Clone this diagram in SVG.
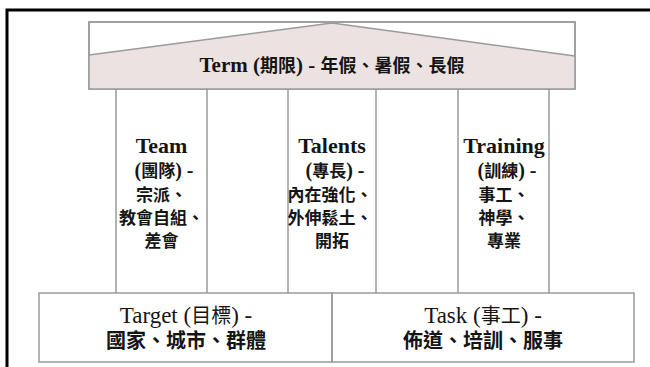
<svg xmlns="http://www.w3.org/2000/svg" width="650" height="367" viewBox="0 0 650 367">
<style>
.ln{fill:none;stroke:#9a9a9a;stroke-width:1.5}
.t{font-family:"Liberation Serif","Noto Sans CJK TC",serif;fill:#151515;text-anchor:middle}
.b{font-weight:bold}
.lat{font-size:22px}
.mix{font-size:20px}
.cjk{font-size:17px}
.bot{font-size:23px}
.c18{font-size:18px}
</style>
<rect x="0" y="0" width="650" height="367" fill="#ffffff"/>
<path d="M7,370 V10 H655" fill="none" stroke="#000000" stroke-width="3"/>
<g id="roof">
<rect x="89" y="22" width="486" height="67" fill="#ffffff" class="ln"/>
<polygon points="89,55 332,23 575,56 575,89 89,89" fill="#ede2e2" stroke="none"/>
<polyline points="89,55 332,23 575,56" class="ln"/>
<rect x="89" y="22" width="486" height="67" class="ln"/>
<text class="t b" x="332" y="72" font-size="21">Term (<tspan class="c18">期限</tspan>) - <tspan class="c18">年假、暑假、長假</tspan></text>
</g>
<g id="connectors">
<line x1="116" y1="89" x2="116" y2="293" class="ln"/>
<line x1="207" y1="89" x2="207" y2="293" class="ln"/>
<line x1="288" y1="89" x2="288" y2="293" class="ln"/>
<line x1="376" y1="89" x2="376" y2="293" class="ln"/>
<line x1="458" y1="89" x2="458" y2="293" class="ln"/>
<line x1="549" y1="89" x2="549" y2="293" class="ln"/>
</g>
<g id="team">
<text class="t b lat" x="161.5" y="153">Team</text>
<text class="t b mix" x="164" y="177">(<tspan class="cjk">團隊</tspan>) -</text>
<text class="t b cjk" x="161.5" y="201">宗派、</text>
<text class="t b cjk" x="161.5" y="224">教會自組、</text>
<text class="t b cjk" x="161.5" y="247">差會</text>
</g>
<g id="talents">
<text class="t b lat" x="332" y="153">Talents</text>
<text class="t b mix" x="335" y="177">(<tspan class="cjk">專長</tspan>) -</text>
<text class="t b cjk" x="330" y="201">內在強化、</text>
<text class="t b cjk" x="330" y="224">外伸鬆土、</text>
<text class="t b cjk" x="332" y="247">開拓</text>
</g>
<g id="training">
<text class="t b lat" x="504" y="153">Training</text>
<text class="t b mix" x="507" y="177">(<tspan class="cjk">訓練</tspan>) -</text>
<text class="t b cjk" x="504" y="201">事工、</text>
<text class="t b cjk" x="504" y="224">神學、</text>
<text class="t b cjk" x="504" y="247">專業</text>
</g>
<g id="target">
<rect x="39" y="293" width="293" height="69" fill="#ffffff" class="ln"/>
<text class="t bot" x="186" y="323">Target (<tspan font-size="20">目標</tspan>) -</text>
<text class="t b" x="186" y="348" font-size="20">國家、城市、群體</text>
</g>
<g id="task">
<rect x="332" y="293" width="302" height="69" fill="#ffffff" class="ln"/>
<text class="t bot" x="483" y="323">Task (<tspan font-size="20">事工</tspan>) -</text>
<text class="t b" x="483" y="348" font-size="20">佈道、培訓、服事</text>
</g>
</svg>
